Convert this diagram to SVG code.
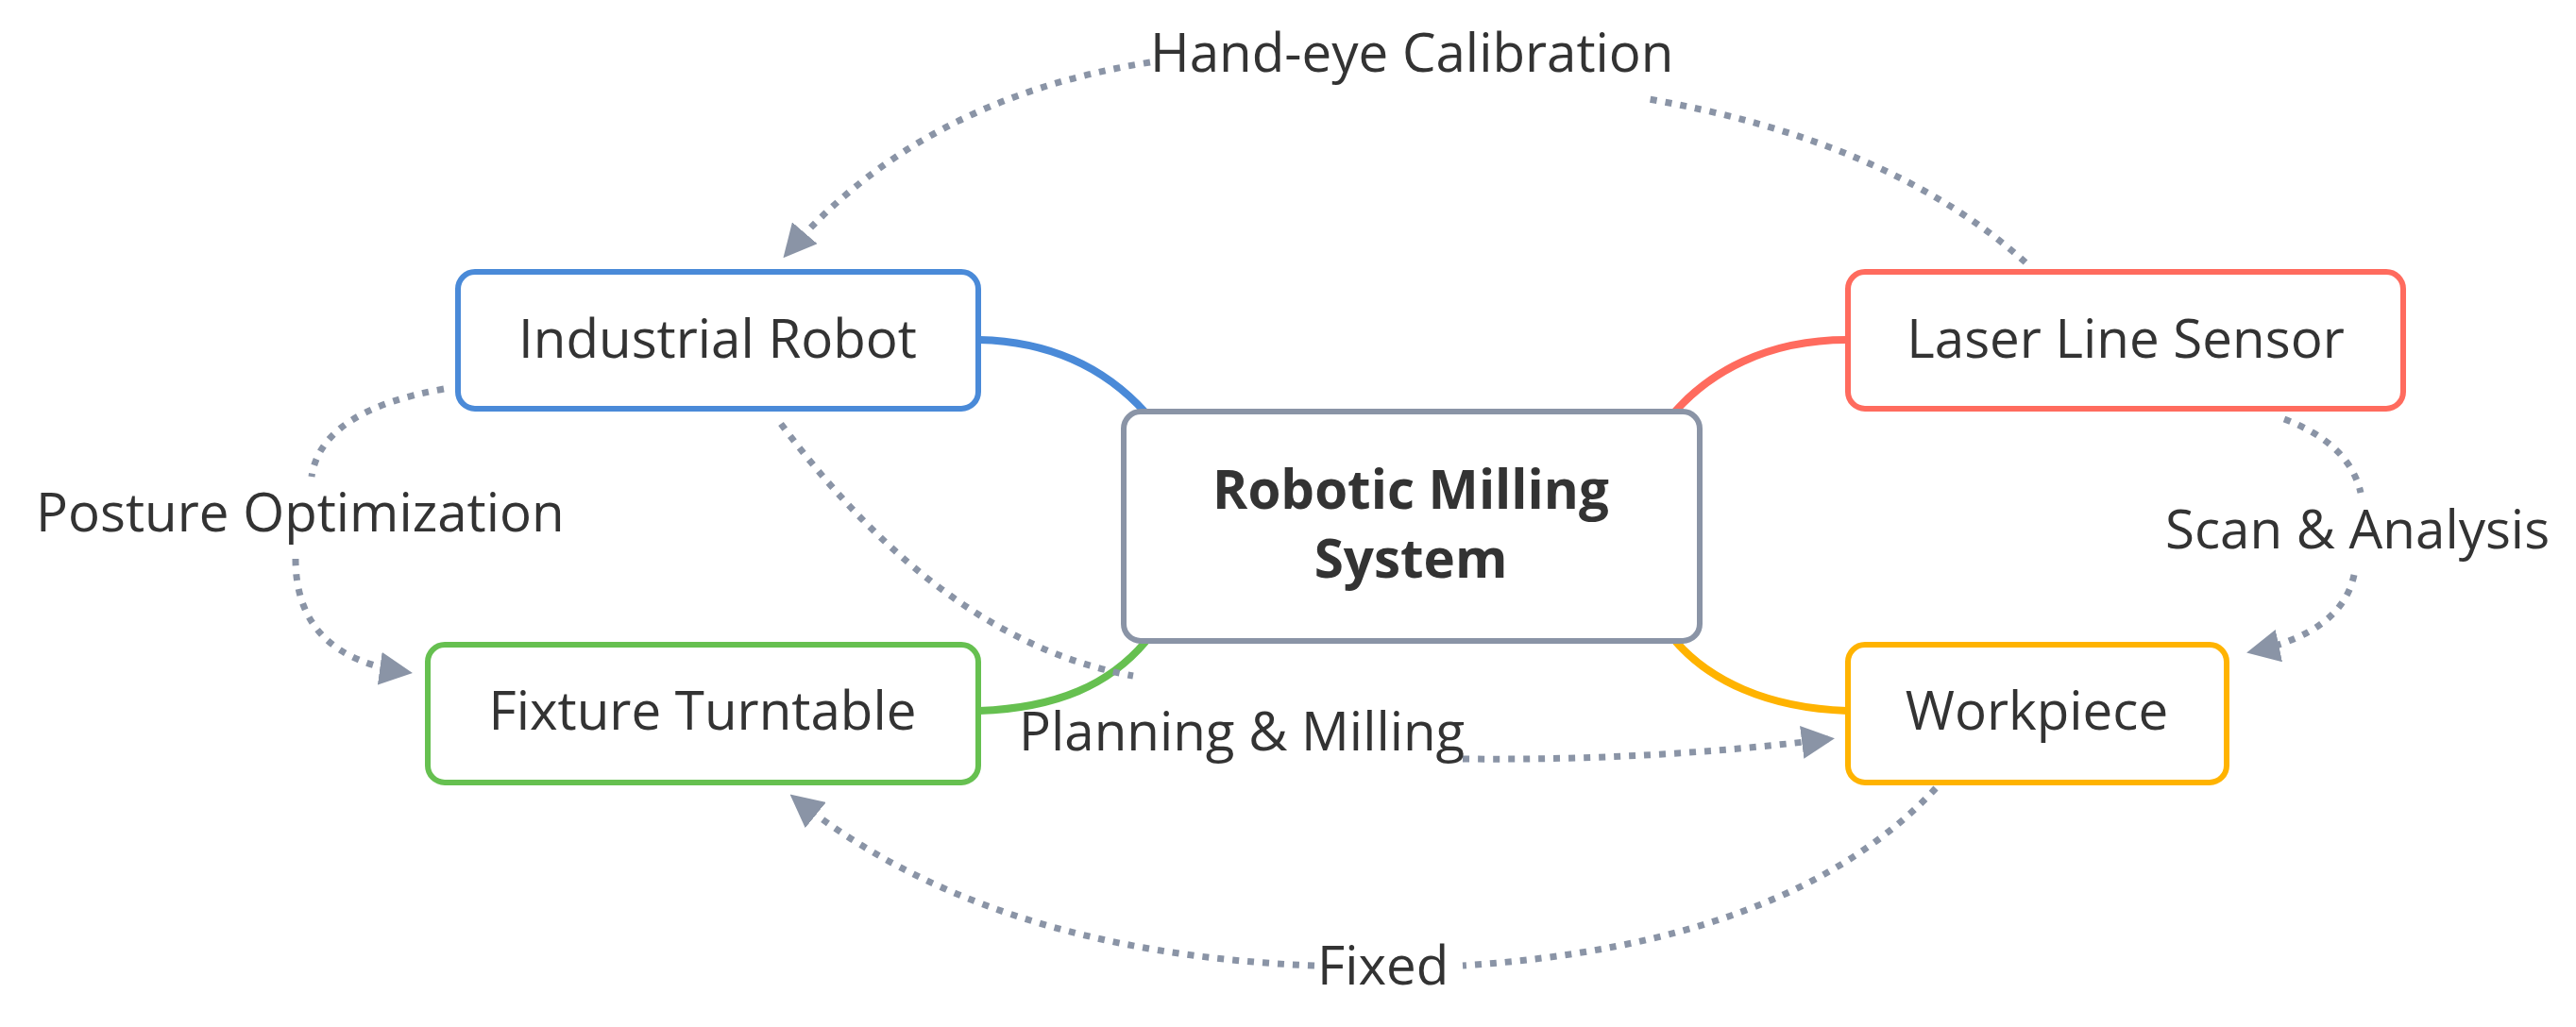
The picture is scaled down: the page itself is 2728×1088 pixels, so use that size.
<svg xmlns="http://www.w3.org/2000/svg" width="2728" height="1088" viewBox="0 0 2728 1088">
<style>
text{font-family:"Open Sans","Noto Sans",sans-serif;font-size:56.5px;fill:#333}
.c{text-anchor:middle}
.b{font-weight:bold}
.box{fill:#fff;stroke-width:6}
.d{fill:none;stroke:#8a94a6;stroke-width:7;stroke-dasharray:7 9}
.s{fill:none;stroke-linecap:round}
</style>
<defs>
<marker id="a" viewBox="0 0 10 10" refX="8" refY="5" markerWidth="5" markerHeight="5" orient="auto" markerUnits="strokeWidth">
<path d="M0,0 L10,5 L0,10 z" fill="#8a94a6"/>
</marker>
</defs>
<rect width="2728" height="1088" fill="#fff"/>
<g id="connectors">
<path class="s" d="M1037 360 C1120 362 1175 395 1213 437" stroke="#4a8ad8" stroke-width="8"/>
<path class="s" d="M1956 360 C1870 360 1810 395 1773 437" stroke="#ff6b5e" stroke-width="8"/>
<path class="s" d="M1037 753 C1120 750 1175 725 1213 680" stroke="#66c050" stroke-width="8"/>
<path class="s" d="M1956 753 C1870 750 1810 720 1775 680" stroke="#ffb300" stroke-width="8"/>
<path class="d" d="M2145 278 Q2000 148 1740 104"/>
<path class="d" d="M1218 66 Q975 104 834 268" marker-end="url(#a)"/>
<path class="d" d="M470 412 Q340 435 330 505"/>
<path class="d" d="M313 592 Q313 696 430 712" marker-end="url(#a)"/>
<path class="d" d="M827 449 Q1000 680 1200 716"/>
<path class="d" d="M1549 804 Q1750 806 1936 783" marker-end="url(#a)"/>
<path class="d" d="M2419 444 Q2488 470 2500 522"/>
<path class="d" d="M2493 609 Q2480 670 2386 690" marker-end="url(#a)"/>
<path class="d" d="M2050 835 Q1897 1000 1549 1023"/>
<path class="d" d="M1392 1023 Q1044 1009 842 846" marker-end="url(#a)"/>
</g>
<g id="labels">
<text x="1218" y="76">Hand-eye Calibration</text>
<text x="38" y="563">Posture Optimization</text>
<text x="1079" y="795">Planning &amp; Milling</text>
<text x="2293" y="581">Scan &amp; Analysis</text>
<text x="1395" y="1043">Fixed</text>
</g>
<g id="center">
<rect class="box" x="1190" y="436" width="610" height="243" rx="18" stroke="#8a94a6"/>
<text class="c b" x="1494" y="539">Robotic Milling</text>
<text class="c b" x="1494" y="612">System</text>
</g>
<g id="robot">
<rect class="box" x="485" y="288" width="551" height="145" rx="18" stroke="#4a8ad8"/>
<text class="c" x="760" y="379">Industrial Robot</text>
</g>
<g id="fixture">
<rect class="box" x="453" y="683" width="583" height="146" rx="18" stroke="#66c050"/>
<text class="c" x="744" y="773">Fixture Turntable</text>
</g>
<g id="laser">
<rect class="box" x="1957" y="288" width="588" height="145" rx="18" stroke="#ff6b5e"/>
<text class="c" x="2251" y="379">Laser Line Sensor</text>
</g>
<g id="workpiece">
<rect class="box" x="1957" y="683" width="401" height="146" rx="18" stroke="#ffb300"/>
<text class="c" x="2157" y="773">Workpiece</text>
</g>
</svg>
